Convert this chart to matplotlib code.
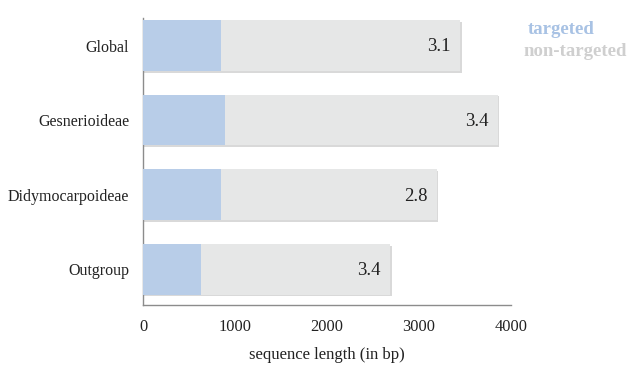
import matplotlib
matplotlib.use("Agg")
import matplotlib.pyplot as plt
import matplotlib.patheffects as pe

categories = ["Global", "Gesnerioideae", "Didymocarpoideae", "Outgroup"]
targeted = [850, 890, 850, 630]
total = [3450, 3860, 3195, 2690]
ratio_labels = ["3.1", "3.4", "2.8", "3.4"]
xticks = [0, 1000, 2000, 3000, 4000]

plt.rcParams['font.family'] = ['Liberation Serif', 'DejaVu Serif']

fig = plt.figure(figsize=(6.33, 3.67), dpi=100)
ax = fig.add_axes([143/633, 1-305/367, (511-143)/633, (305-18)/367])

y = list(range(len(categories)))
shadow = [pe.SimplePatchShadow(offset=(0.8, -1.2), shadow_rgbFace='#a0a0a0', alpha=0.4), pe.Normal()]
bars_total = ax.barh(y, total, height=0.68, color='#e6e7e7', zorder=2)
for b in bars_total:
    b.set_path_effects(shadow)
ax.barh(y, targeted, height=0.68, color='#b8cde8', zorder=3)

for yi, t, lab in zip(y, total, ratio_labels):
    ax.annotate(lab, xy=(t, yi), xytext=(-7, -1), textcoords='offset points',
                ha='right', va='center', fontsize=13.5, color='#222222', zorder=4)

ax.set_ylim(3.48, -0.37)
ax.set_xlim(0, 4000)
ax.set_xticks(xticks)
ax.set_xticklabels([str(v) for v in xticks])
ax.set_yticks(y)
ax.set_yticklabels(categories)
ax.tick_params(axis='x', length=0, labelsize=11.8, colors='#222222', pad=10)
ax.tick_params(axis='y', length=0, labelsize=11.5, colors='#222222', pad=10)
for s in ['top', 'right']:
    ax.spines[s].set_visible(False)
for s in ['left', 'bottom']:
    ax.spines[s].set_color('#8c8c8c')
    ax.spines[s].set_linewidth(1)
ax.set_xlabel("sequence length (in bp)", fontsize=12, labelpad=9, color='#222222')

fig.text(528/633, 1-30/367, "targeted", color='#a8c2e4', fontsize=13.5,
         fontweight='bold', ha='left', va='center')
fig.text(523/633, 1-52/367, "non-targeted", color='#cfcfcf', fontsize=13.5,
         fontweight='bold', ha='left', va='center')

fig.savefig("out.png", dpi=100)
